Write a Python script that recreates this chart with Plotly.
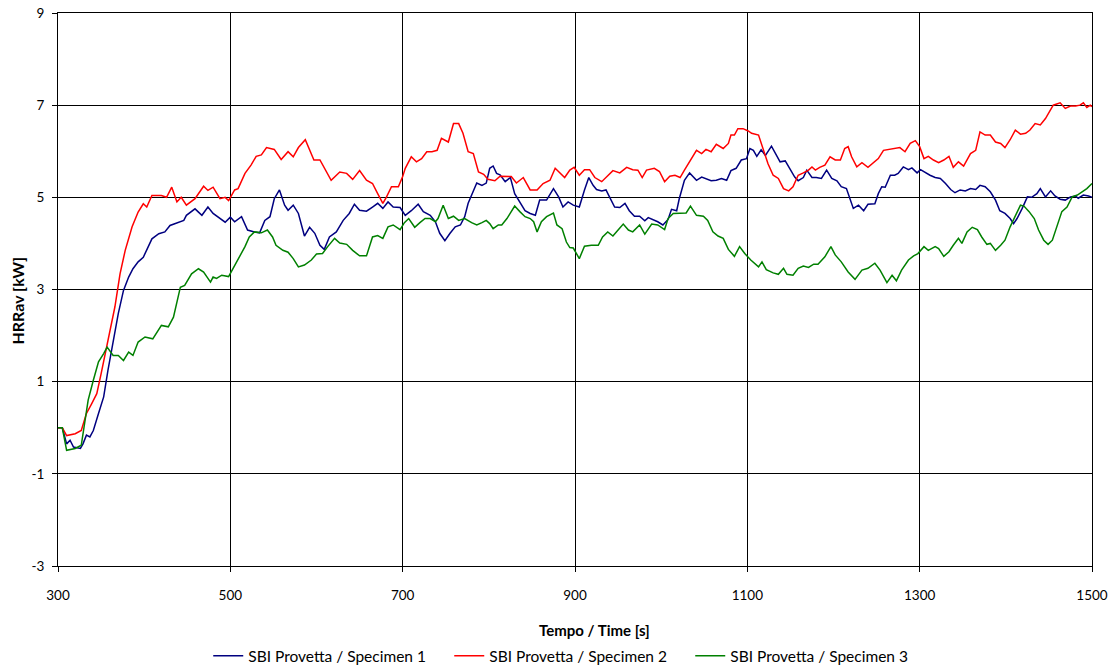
import plotly.graph_objects as go

# ---- Data ----
t_spec1 = [300,305,310,314,318,326,329,333,337,341,347,353,358,364,370,376,382,387,393,399,403,409,417,424,430,440,446,449,459,467,474,480,488,494,500,505,513,520,528,534,540,546,551,557,563,567,573,579,586,592,598,604,609,615,623,631,638,644,650,658,665,671,677,683,689,697,703,710,718,724,732,738,743,749,755,761,767,772,776,780,786,792,797,801,805,809,813,819,825,830,836,842,848,854,859,867,875,881,886,892,898,905,911,916,921,925,931,936,940,946,952,958,963,969,975,981,985,991,996,1002,1008,1012,1018,1021,1027,1033,1041,1047,1052,1058,1064,1070,1076,1081,1087,1093,1099,1103,1107,1111,1116,1121,1128,1134,1138,1144,1150,1155,1159,1165,1169,1175,1180,1186,1192,1198,1204,1209,1215,1219,1223,1229,1235,1240,1248,1252,1256,1260,1266,1271,1275,1281,1287,1291,1297,1301,1307,1312,1318,1324,1330,1336,1341,1347,1353,1359,1365,1370,1376,1382,1388,1393,1399,1405,1409,1413,1419,1425,1430,1436,1440,1446,1452,1457,1463,1469,1475,1481,1484,1490,1496,1500]
v_spec1 = [0,0,-0.35,-0.27,-0.42,-0.45,-0.35,-0.16,-0.2,-0.06,0.31,0.67,1.25,1.9,2.48,2.98,3.27,3.45,3.6,3.7,3.85,4.1,4.21,4.25,4.39,4.46,4.5,4.61,4.75,4.61,4.79,4.65,4.54,4.46,4.57,4.47,4.58,4.29,4.25,4.23,4.5,4.58,4.97,5.16,4.83,4.72,4.83,4.65,4.16,4.35,4.22,3.96,3.87,4.14,4.25,4.5,4.65,4.85,4.72,4.7,4.79,4.87,4.76,4.9,4.79,4.78,4.61,4.71,4.85,4.69,4.61,4.47,4.22,4.06,4.22,4.36,4.4,4.58,4.87,5.05,5.31,5.26,5.31,5.63,5.68,5.52,5.49,5.34,5.43,5.08,4.9,4.71,4.65,4.61,4.94,4.94,5.19,5.01,4.79,4.9,4.83,4.79,5.16,5.43,5.26,5.17,5.14,5.16,5.01,4.79,4.78,4.87,4.71,4.59,4.59,4.49,4.56,4.52,4.47,4.4,4.52,4.74,4.71,4.97,5.37,5.53,5.37,5.44,5.41,5.36,5.37,5.41,5.37,5.58,5.63,5.81,5.84,6.06,6.02,5.89,6.03,5.91,6.11,5.91,5.77,5.79,5.59,5.44,5.36,5.43,5.59,5.43,5.43,5.41,5.59,5.41,5.36,5.23,5.19,4.97,4.76,4.83,4.71,4.85,4.86,5.08,5.23,5.22,5.48,5.48,5.52,5.66,5.6,5.64,5.53,5.6,5.53,5.48,5.43,5.41,5.3,5.17,5.1,5.16,5.14,5.19,5.17,5.26,5.23,5.12,4.94,4.71,4.65,4.54,4.43,4.54,4.76,5.01,5.0,5.08,5.19,5.01,5.14,5.03,4.96,4.94,5.01,5.03,4.98,5.05,5.03,5.0]

t_spec2 = [300,305,310,320,327,333,339,345,350,358,366,372,378,386,393,399,403,409,420,426,432,438,443,449,459,469,474,480,488,494,498,505,509,517,524,530,536,542,551,559,567,573,579,587,592,597,604,609,617,627,635,642,650,658,665,671,677,681,687,695,700,703,710,716,722,728,734,740,745,753,759,765,770,776,782,788,794,799,807,813,821,826,832,840,848,856,863,871,877,883,888,894,899,905,911,917,923,931,936,944,952,960,967,973,978,983,992,998,1004,1010,1016,1022,1027,1033,1041,1047,1052,1058,1064,1072,1078,1081,1085,1089,1095,1101,1105,1113,1119,1124,1130,1136,1142,1148,1153,1159,1165,1171,1175,1179,1184,1190,1196,1202,1208,1213,1217,1221,1227,1233,1240,1246,1252,1258,1266,1271,1277,1283,1289,1295,1300,1305,1310,1316,1322,1328,1334,1339,1345,1351,1359,1365,1370,1376,1382,1388,1394,1399,1405,1411,1417,1423,1428,1434,1440,1446,1452,1455,1463,1469,1475,1481,1486,1490,1494,1498,1500]
v_spec2 = [0,0,-0.17,-0.13,-0.06,0.31,0.52,0.74,1.17,1.9,2.62,3.34,3.85,4.36,4.68,4.86,4.79,5.04,5.04,5.0,5.22,4.9,5.0,4.83,4.97,5.24,5.15,5.22,4.97,5.0,4.93,5.16,5.19,5.52,5.7,5.89,5.92,6.08,6.04,5.82,5.99,5.88,6.08,6.25,6.02,5.81,5.81,5.63,5.37,5.55,5.52,5.39,5.58,5.37,5.3,5.08,4.87,5.0,5.23,5.23,5.45,5.63,5.88,5.77,5.84,5.99,5.99,6.02,6.28,6.2,6.6,6.6,6.39,5.99,5.95,5.55,5.5,5.39,5.36,5.46,5.45,5.45,5.31,5.43,5.16,5.16,5.3,5.37,5.63,5.52,5.43,5.59,5.65,5.48,5.6,5.6,5.43,5.34,5.43,5.58,5.53,5.65,5.6,5.59,5.43,5.59,5.63,5.56,5.34,5.46,5.48,5.43,5.59,5.77,6.02,5.95,6.04,5.99,6.15,6.06,6.17,6.35,6.35,6.49,6.49,6.44,6.39,6.35,6.02,5.73,5.48,5.41,5.19,5.14,5.23,5.48,5.53,5.59,5.66,5.59,5.65,5.7,5.88,5.81,5.81,6.06,6.1,5.88,5.66,5.75,5.65,5.75,5.84,6.02,6.04,6.06,6.08,5.99,6.17,6.23,6.1,5.84,5.89,5.81,5.75,5.81,5.89,5.65,5.77,5.68,5.95,6.02,6.42,6.35,6.35,6.2,6.17,6.08,6.25,6.46,6.37,6.39,6.46,6.6,6.57,6.71,6.89,7.0,7.05,6.93,6.98,6.98,7.0,7.05,6.95,7.0,6.97]

t_spec3 = [300,305,310,320,327,331,335,341,347,353,357,364,370,376,382,387,393,401,410,420,428,434,442,447,455,463,469,477,480,484,490,498,503,509,517,522,528,536,543,549,553,561,567,573,579,586,594,600,607,613,621,627,635,642,650,658,665,671,677,683,689,697,702,707,714,720,726,732,738,741,747,753,759,765,772,780,786,792,797,801,805,811,815,821,826,830,836,842,848,852,856,861,867,875,879,885,890,894,898,905,911,919,927,932,938,944,950,956,962,967,975,981,989,996,1004,1008,1014,1021,1029,1034,1041,1049,1054,1060,1066,1072,1078,1085,1091,1097,1104,1113,1117,1122,1130,1136,1142,1146,1153,1159,1165,1171,1177,1182,1190,1197,1202,1209,1217,1225,1233,1240,1248,1254,1262,1268,1273,1279,1287,1293,1298,1305,1310,1318,1322,1328,1334,1339,1345,1349,1355,1361,1367,1372,1378,1382,1388,1394,1399,1405,1411,1417,1421,1427,1433,1438,1444,1449,1454,1459,1465,1471,1477,1483,1488,1494,1500]
v_spec3 = [0,0,-0.49,-0.45,-0.38,0.16,0.6,1.03,1.43,1.61,1.75,1.57,1.57,1.46,1.64,1.57,1.86,1.97,1.93,2.22,2.19,2.4,3.05,3.09,3.34,3.45,3.38,3.16,3.27,3.24,3.31,3.28,3.45,3.67,3.93,4.14,4.25,4.23,4.29,4.14,3.96,3.85,3.81,3.67,3.49,3.53,3.64,3.77,3.78,3.93,4.11,4.01,3.98,3.85,3.73,3.73,4.14,4.17,4.11,4.36,4.4,4.3,4.45,4.54,4.35,4.45,4.54,4.54,4.47,4.54,4.83,4.54,4.59,4.5,4.54,4.45,4.4,4.45,4.5,4.43,4.32,4.4,4.4,4.54,4.69,4.81,4.69,4.58,4.54,4.47,4.25,4.47,4.58,4.66,4.4,4.32,4.03,3.91,3.9,3.67,3.94,3.96,3.96,4.14,4.25,4.16,4.29,4.42,4.29,4.25,4.4,4.2,4.42,4.4,4.3,4.54,4.65,4.66,4.66,4.81,4.61,4.59,4.5,4.25,4.16,4.11,3.87,3.72,3.93,3.78,3.64,3.49,3.6,3.43,3.36,3.33,3.46,3.33,3.31,3.46,3.51,3.48,3.55,3.55,3.71,3.93,3.75,3.6,3.38,3.22,3.42,3.46,3.57,3.42,3.15,3.31,3.19,3.42,3.64,3.73,3.78,3.93,3.85,3.93,3.89,3.72,3.82,3.96,4.11,4.0,4.25,4.35,4.3,4.14,3.98,4.0,3.85,3.96,4.07,4.36,4.61,4.83,4.81,4.69,4.54,4.29,4.07,3.98,4.07,4.36,4.69,4.79,5.01,5.05,5.12,5.19,5.3]

names = ["SBI Provetta / Specimen 1", "SBI Provetta / Specimen 2", "SBI Provetta / Specimen 3"]
colors = ["#000080", "#FF0000", "#008000"]

x_ticks = [300, 500, 700, 900, 1100, 1300, 1500]
y_ticks = [-3, -1, 1, 3, 5, 7, 9]

FONT = "Lato, Carlito, 'Liberation Sans', sans-serif"

fig = go.Figure()
for tt, vv, nm, col in zip([t_spec1, t_spec2, t_spec3], [v_spec1, v_spec2, v_spec3], names, colors):
    fig.add_trace(go.Scatter(x=tt, y=vv, mode="lines", name=nm,
                             line=dict(color=col, width=1.5)))

fig.update_layout(
    width=1114, height=668,
    margin=dict(l=58, r=22, t=13, b=102, autoexpand=False),
    paper_bgcolor="white", plot_bgcolor="white",
    font=dict(family=FONT, size=13.5, color="black"),
    showlegend=True,
    legend=dict(orientation="h", x=0.1453, xanchor="left", y=-0.163, yanchor="middle",
                font=dict(size=15.5), traceorder="normal", itemwidth=30,
                entrywidth=196, entrywidthmode="pixels",
                bgcolor="rgba(0,0,0,0)"),
    annotations=[
        dict(text="<b>Tempo / Time [s]</b>", xref="paper", yref="paper",
             x=0.519, y=-0.1157, xanchor="center", yanchor="middle", showarrow=False,
             font=dict(size=15)),
        dict(text="<b>HRRav [kW]</b>", xref="paper", yref="paper",
             x=-0.0387, y=0.48, xanchor="center", yanchor="middle", showarrow=False,
             textangle=-90, font=dict(size=16)),
    ],
)
fig.update_xaxes(range=[300, 1500], tickvals=x_ticks, ticktext=[str(v) for v in x_ticks],
                 showgrid=True, gridcolor="#000000", gridwidth=1,
                 showline=True, linecolor="black", linewidth=1, mirror=True,
                 ticks="outside", ticklen=5, tickcolor="black", zeroline=False,
                 automargin=False, ticklabelstandoff=12, tickfont=dict(size=13.5))
fig.update_yaxes(range=[-3, 9], tickvals=y_ticks, ticktext=[str(v) for v in y_ticks],
                 showgrid=True, gridcolor="#000000", gridwidth=1,
                 showline=True, linecolor="black", linewidth=1, mirror=True,
                 ticks="outside", ticklen=5, tickcolor="black", zeroline=False,
                 automargin=False, ticklabelstandoff=5, tickfont=dict(size=13.5))

fig.write_html("out.html")
